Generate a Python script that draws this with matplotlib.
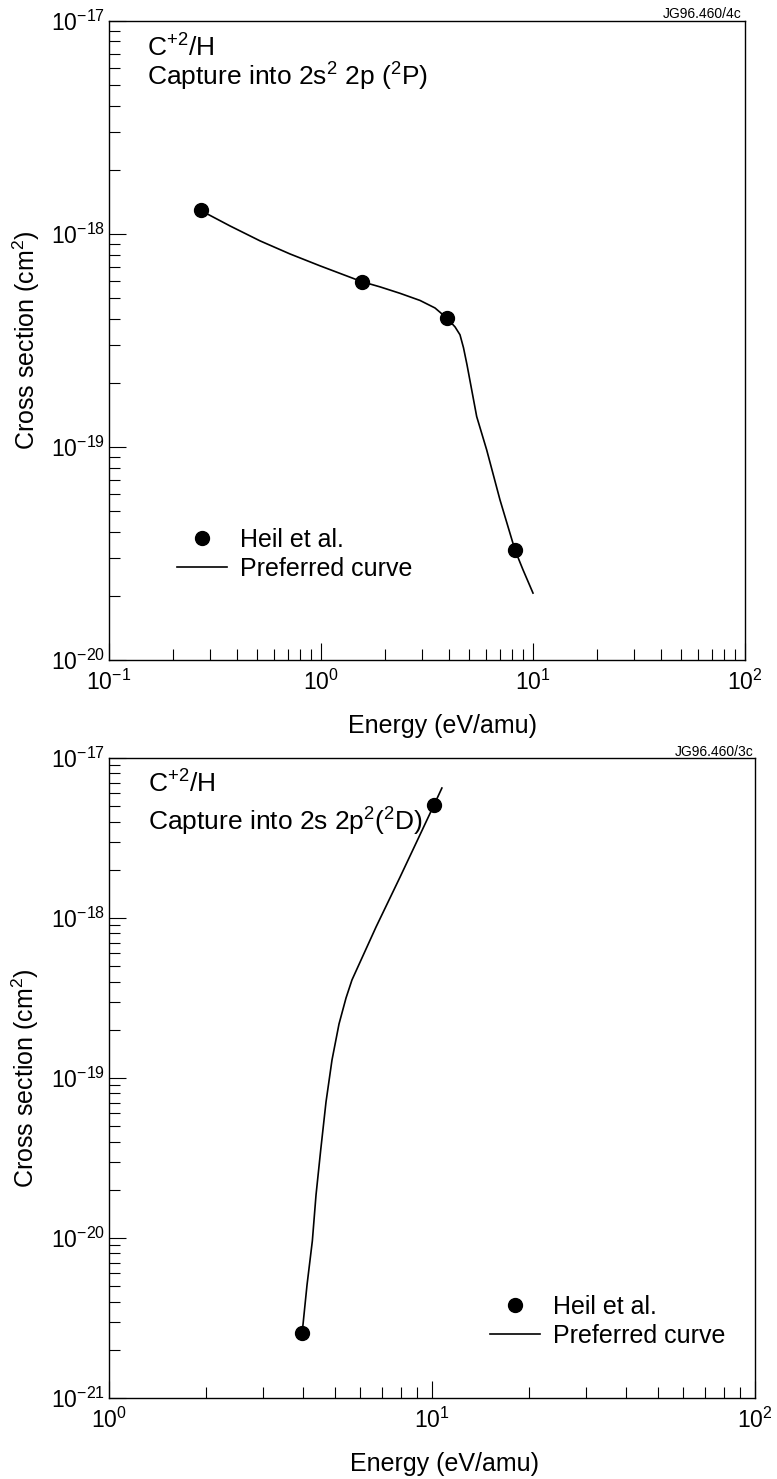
import numpy as np
import matplotlib.pyplot as plt
from matplotlib.ticker import LogLocator, LogFormatterMathtext, NullFormatter

plt.rcParams['font.family'] = ['Liberation Sans', 'DejaVu Sans']
plt.rcParams['mathtext.fontset'] = 'custom'
plt.rcParams['mathtext.rm'] = 'Liberation Sans'
plt.rcParams['mathtext.it'] = 'Liberation Sans:italic'
plt.rcParams['mathtext.bf'] = 'Liberation Sans:bold'

# --- C+2/H capture into 2s2 2p (2P) ---
heil_e_2p = [0.271, 1.556, 3.92, 8.22]
heil_sigma_2p = [1.29e-18, 5.97e-19, 4.03e-19, 3.28e-20]
curve_e_2p = [0.271, 0.372, 0.516, 0.714, 0.989, 1.556, 1.898, 2.359, 2.931,
              3.449, 3.916, 4.287, 4.525, 4.701, 4.883, 5.425, 6.047, 6.987,
              8.224, 8.97, 10.0]
curve_sigma_2p = [1.287e-18, 1.090e-18, 9.27e-19, 8.05e-19, 7.08e-19, 5.97e-19,
                  5.64e-19, 5.26e-19, 4.87e-19, 4.49e-19, 4.03e-19, 3.66e-19,
                  3.36e-19, 2.92e-19, 2.43e-19, 1.388e-19, 9.68e-20, 5.64e-20,
                  3.28e-20, 2.65e-20, 2.06e-20]

# --- C+2/H capture into 2s 2p2 (2D) ---
heil_e_2d = [3.963, 10.14]
heil_sigma_2d = [2.556e-21, 5.08e-18]
curve_e_2d = [3.963, 4.102, 4.261, 4.374, 4.523, 4.697, 4.902, 5.153, 5.417,
              5.652, 6.709, 7.961, 9.052, 10.14, 10.73]
curve_sigma_2d = [2.556e-21, 5.08e-21, 9.58e-21, 1.857e-20, 3.55e-20, 7.08e-20,
                  1.296e-19, 2.175e-19, 3.162e-19, 4.10e-19, 8.78e-19, 1.80e-18,
                  3.12e-18, 5.08e-18, 6.49e-18]

x_ticks_2p = [1e-1, 1e0, 1e1, 1e2]
y_ticks_2p = [1e-20, 1e-19, 1e-18, 1e-17]
x_ticks_2d = [1e0, 1e1, 1e2]
y_ticks_2d = [1e-21, 1e-20, 1e-19, 1e-18, 1e-17]

fig = plt.figure(figsize=(7.77, 14.79), dpi=100)
ax1 = fig.add_axes([0.1403, 0.5538, 0.8185, 0.4321])
ax2 = fig.add_axes([0.1403, 0.0548, 0.8314, 0.4327])


def style_axes(ax, xticks, yticks):
    ax.set_xscale('log')
    ax.set_yscale('log')
    for side in ['top', 'bottom', 'left', 'right']:
        ax.spines[side].set_linewidth(1.0)
    ax.set_xticks(xticks)
    ax.set_yticks(yticks)
    ax.xaxis.set_minor_locator(LogLocator(base=10, subs=np.arange(2, 10), numticks=20))
    ax.yaxis.set_minor_locator(LogLocator(base=10, subs=np.arange(2, 10), numticks=20))
    ax.xaxis.set_major_formatter(LogFormatterMathtext())
    ax.yaxis.set_major_formatter(LogFormatterMathtext())
    ax.xaxis.set_minor_formatter(NullFormatter())
    ax.yaxis.set_minor_formatter(NullFormatter())
    ax.tick_params(which='both', direction='in', top=False, right=False,
                   width=0.8, labelsize=16.5, colors='black')
    ax.tick_params(which='major', length=12)
    ax.tick_params(which='minor', length=8)
    ax.tick_params(axis='x', which='major', pad=7)
    ax.tick_params(axis='y', which='major', pad=3)
    ax.set_xlabel('Energy (eV/amu)', fontsize=18)
    ax.set_ylabel('Cross section (cm$^{2}$)', fontsize=18)


# --- top panel ---
style_axes(ax1, x_ticks_2p, y_ticks_2p)
ax1.plot(curve_e_2p, curve_sigma_2p, color='black', lw=1.2, label='Preferred curve')
ax1.plot(heil_e_2p, heil_sigma_2p, 'o', color='black', ms=10, label='Heil et al.')
ax1.set_xlim(1e-1, 1e2)
ax1.set_ylim(1e-20, 1e-17)
ax1.xaxis.set_label_coords(0.524, -0.085)
ax1.yaxis.set_label_coords(-0.106, 0.5)
ax1.text(0.06, 0.958, 'C$^{+2}$/H', transform=ax1.transAxes, fontsize=19, va='center')
ax1.text(0.06, 0.912, 'Capture into 2s$^{2}$ 2p ($^{2}$P)', transform=ax1.transAxes,
         fontsize=19, va='center')
ax1.text(0.995, 1.011, 'JG96.460/4c', transform=ax1.transAxes, fontsize=10,
         ha='right', va='center')
h, l = ax1.get_legend_handles_labels()
ax1.legend(h[::-1], l[::-1], loc='upper left', bbox_to_anchor=(0.107, 0.207),
           frameon=False, fontsize=18, handlelength=2.0, handletextpad=0.5,
           labelspacing=0.2, borderpad=0, borderaxespad=0)

# --- bottom panel ---
style_axes(ax2, x_ticks_2d, y_ticks_2d)
ax2.plot(curve_e_2d, curve_sigma_2d, color='black', lw=1.2, label='Preferred curve')
ax2.plot(heil_e_2d, heil_sigma_2d, 'o', color='black', ms=10, label='Heil et al.')
ax2.set_xlim(1e0, 1e2)
ax2.set_ylim(1e-21, 1e-17)
ax2.xaxis.set_label_coords(0.519, -0.084)
ax2.yaxis.set_label_coords(-0.106, 0.5)
ax2.text(0.06, 0.96, 'C$^{+2}$/H', transform=ax2.transAxes, fontsize=19, va='center')
ax2.text(0.06, 0.9, 'Capture into 2s 2p$^{2}$($^{2}$D)', transform=ax2.transAxes,
         fontsize=19, va='center')
ax2.text(0.998, 1.01, 'JG96.460/3c', transform=ax2.transAxes, fontsize=10,
         ha='right', va='center')
h, l = ax2.get_legend_handles_labels()
ax2.legend(h[::-1], l[::-1], loc='upper left', bbox_to_anchor=(0.59, 0.161),
           frameon=False, fontsize=18, handlelength=2.0, handletextpad=0.5,
           labelspacing=0.2, borderpad=0, borderaxespad=0)

fig.savefig('out.png', dpi=100)
